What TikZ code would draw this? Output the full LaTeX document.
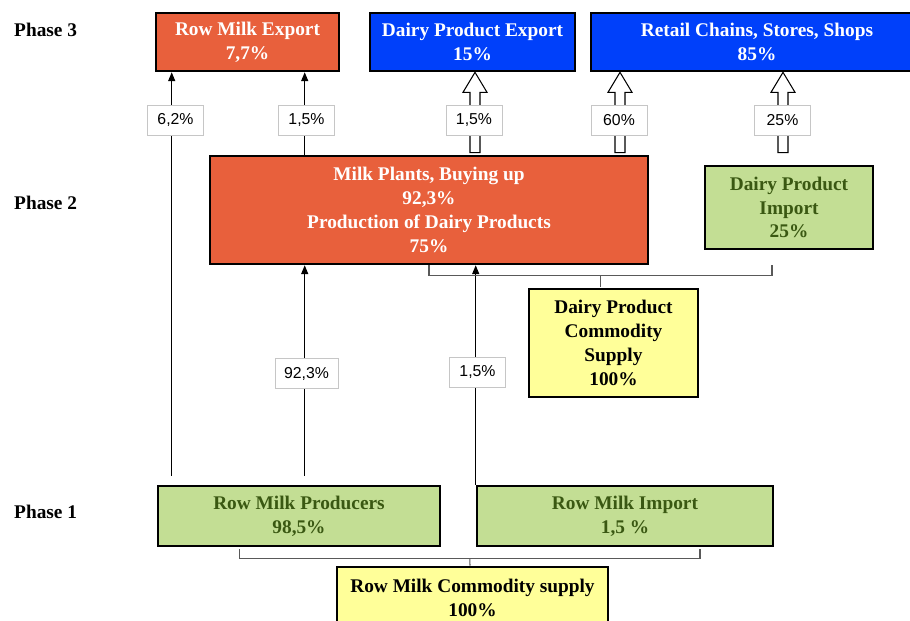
\documentclass[tikz,border=0pt]{standalone}
\usepackage{fontspec}
\setmainfont{Liberation Serif}
\setsansfont{Liberation Sans}
\usetikzlibrary{arrows.meta,calc}
\definecolor{milkorange}{RGB}{232,96,60}
\definecolor{exportblue}{RGB}{0,64,250}
\definecolor{leafgreen}{RGB}{195,222,148}
\definecolor{darkleaf}{RGB}{58,88,18}
\definecolor{paleyellow}{RGB}{255,255,153}
\begin{document}
\begin{tikzpicture}[x=0.02cm, y=-0.02cm,
			box/.style={draw, line width=1.5pt, align=center, inner sep=2pt, font=\fontsize{11}{13.6}\selectfont\bfseries},
			hot/.style={box, fill=milkorange, text=white},
			sale/.style={box, fill=exportblue, text=white},
			farm/.style={box, fill=leafgreen, text=darkleaf},
			supply/.style={box, fill=paleyellow},
			pct/.style={draw=gray!45, fill=white, minimum width=1.12cm, minimum height=0.6cm, inner sep=1pt, font=\sffamily\small},
			phase/.style={anchor=west, font=\fontsize{11}{13}\selectfont\bfseries},
			arrow/.style={-{Triangle[length=5pt,width=4pt]}, line width=0.6pt},
			hollow/.style={draw, fill=white, line width=0.6pt},
			bracket/.style={draw=black!65, line width=0.6pt}
		]
			\useasboundingbox (0,0) rectangle (910,621);

			% phase 3
			\node[hot, minimum width=3.66cm, minimum height=1.16cm] (rme) at (247.5,42) {Row Milk Export\\7,7\%};
			\node[sale, minimum width=4.1cm, minimum height=1.16cm] (dpe) at (472.5,42) {Dairy Product Export\\15\%};
			\node[sale, minimum width=6.64cm, minimum height=1.16cm] (retail) at (757,42) {Retail Chains, Stores, Shops\\85\%};

			% phase 2
			\node[hot, minimum width=8.76cm, minimum height=2.16cm] (plants) at (429,210) {Milk Plants, Buying up\\92,3\%\\Production of Dairy Products\\75\%};
			\node[farm, minimum width=3.36cm, minimum height=1.66cm] (dpi) at (789,207.5) {Dairy Product\\Import\\25\%};
			\node[supply, minimum width=3.38cm, minimum height=2.16cm] (dpcs) at (613.5,343) {Dairy Product\\Commodity\\Supply\\100\%};

			% phase 1
			\node[farm, minimum width=5.64cm, minimum height=1.2cm] (rmp) at (299,516) {Row Milk Producers\\98,5\%};
			\node[farm, minimum width=5.92cm, minimum height=1.2cm] (rmi) at (625,516) {Row Milk Import\\1,5 \%};
			\node[supply, minimum width=5.42cm, minimum height=1.24cm] (rmcs) at (472.5,598) {Row Milk Commodity supply\\100\%};

			\node[phase] (p3) at (8,30) {Phase 3};
			\node[phase] (p2) at (8,203) {Phase 2};
			\node[phase] (p1) at (8,512) {Phase 1};

			% thin flows
			\coordinate (f62) at ([shift={(15,-9)}]rmp.north west);
			\coordinate (f923) at ([shift={(148,-9)}]rmp.north west);
			\draw[arrow] (f62) -- (f62 |- rme.south);
			\draw[arrow] (f923) -- (f923 |- plants.south);
			\draw[arrow] (f923 |- plants.north) -- (f923 |- rme.south);
			\draw[arrow] (rmi.north west) -- (rmi.north west |- plants.south);

			% hollow flows
			\foreach \ax in {475,620,783}{
				\coordinate (hb) at (\ax,0 |- plants.north);
				\coordinate (ht) at (\ax,0 |- dpe.south);
				\draw[hollow] ([shift={(-5,-2)}]hb) -- ([shift={(-5,20)}]ht) -- ([shift={(-12,20)}]ht) -- (ht)
					-- ([shift={(12,20)}]ht) -- ([shift={(5,20)}]ht) -- ([shift={(5,-2)}]hb) -- cycle;
			}

			\node[pct] (l62) at (175.5,120) {6,2\%};
			\node[pct] (l15a) at (306.5,120) {1,5\%};
			\node[pct] (l15b) at (474,120) {1,5\%};
			\node[pct] (l60) at (619,120) {60\%};
			\node[pct] (l25) at (782.5,120) {25\%};
			\node[pct, minimum width=1.26cm] (l923) at (306.5,373.5) {92,3\%};
			\node[pct] (l15c) at (477.5,372) {1,5\%};

			% brackets
			\draw[bracket] (plants.south) -- ++(0,10) coordinate (bl) -- (bl -| 772,0) coordinate (br) -- ++(0,-10);
			\draw[bracket] ($(bl)!0.5!(br)$) -- ++(0,12);
			\draw[bracket] ([shift={(83,2)}]rmp.south west) -- ++(0,9) coordinate (cl) -- (cl -| 700,0) coordinate (cr) -- ++(0,-9);
			\draw[bracket] ($(cl)!0.5!(cr)$) -- (rmcs.north -| 470,0);
		\end{tikzpicture}
\end{document}
